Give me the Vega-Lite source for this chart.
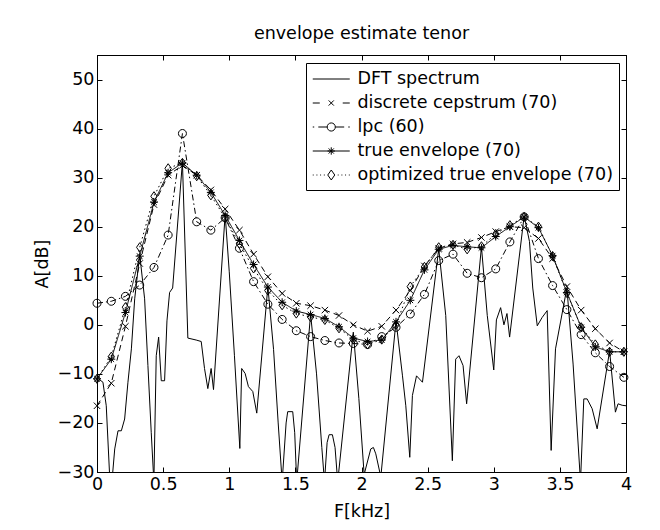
{
"$schema": "https://vega.github.io/schema/vega-lite/v6.json",
"autosize": {"type": "none"},
"padding": {"left": 97, "top": 55, "right": 34, "bottom": 58},
"width": 529, "height": 417,
"background": "white",
"title": {"text": "envelope estimate tenor", "fontSize": 17.5, "font": "DejaVu Sans", "fontWeight": "normal", "color": "black", "offset": 12},
"data": {"values": [
{"f":0.000,"A":-10.8,"s":"DFT spectrum"},{"f":0.045,"A":-11.7,"s":"DFT spectrum"},{"f":0.070,"A":-16.5,"s":"DFT spectrum"},{"f":0.096,"A":-31,"s":"DFT spectrum"},{"f":0.116,"A":-31,"s":"DFT spectrum"},{"f":0.134,"A":-25.3,"s":"DFT spectrum"},{"f":0.159,"A":-21.6,"s":"DFT spectrum"},{"f":0.184,"A":-21.6,"s":"DFT spectrum"},{"f":0.209,"A":-19.2,"s":"DFT spectrum"},{"f":0.234,"A":-11.7,"s":"DFT spectrum"},{"f":0.260,"A":-4.9,"s":"DFT spectrum"},{"f":0.285,"A":5.3,"s":"DFT spectrum"},{"f":0.323,"A":14.3,"s":"DFT spectrum"},{"f":0.360,"A":5.3,"s":"DFT spectrum"},{"f":0.385,"A":-8.3,"s":"DFT spectrum"},{"f":0.410,"A":-21.9,"s":"DFT spectrum"},{"f":0.430,"A":-32,"s":"DFT spectrum"},{"f":0.448,"A":-6.3,"s":"DFT spectrum"},{"f":0.466,"A":-2.5,"s":"DFT spectrum"},{"f":0.486,"A":-11.4,"s":"DFT spectrum"},{"f":0.511,"A":-11.4,"s":"DFT spectrum"},{"f":0.529,"A":0.8,"s":"DFT spectrum"},{"f":0.549,"A":6.6,"s":"DFT spectrum"},{"f":0.572,"A":7.5,"s":"DFT spectrum"},{"f":0.646,"A":33.2,"s":"DFT spectrum"},{"f":0.687,"A":-2.7,"s":"DFT spectrum"},{"f":0.750,"A":-3.1,"s":"DFT spectrum"},{"f":0.788,"A":-3.4,"s":"DFT spectrum"},{"f":0.813,"A":-8.9,"s":"DFT spectrum"},{"f":0.838,"A":-13,"s":"DFT spectrum"},{"f":0.863,"A":-8.9,"s":"DFT spectrum"},{"f":0.881,"A":-13.2,"s":"DFT spectrum"},{"f":0.969,"A":22.5,"s":"DFT spectrum"},{"f":1.000,"A":10.8,"s":"DFT spectrum"},{"f":1.039,"A":-6.2,"s":"DFT spectrum"},{"f":1.080,"A":-25.2,"s":"DFT spectrum"},{"f":1.094,"A":-8.9,"s":"DFT spectrum"},{"f":1.120,"A":-9.9,"s":"DFT spectrum"},{"f":1.145,"A":-12.6,"s":"DFT spectrum"},{"f":1.178,"A":-13.6,"s":"DFT spectrum"},{"f":1.208,"A":-18,"s":"DFT spectrum"},{"f":1.292,"A":7.8,"s":"DFT spectrum"},{"f":1.335,"A":-5,"s":"DFT spectrum"},{"f":1.370,"A":-20,"s":"DFT spectrum"},{"f":1.400,"A":-32,"s":"DFT spectrum"},{"f":1.430,"A":-20,"s":"DFT spectrum"},{"f":1.442,"A":-17.7,"s":"DFT spectrum"},{"f":1.480,"A":-17.7,"s":"DFT spectrum"},{"f":1.495,"A":-22,"s":"DFT spectrum"},{"f":1.510,"A":-32,"s":"DFT spectrum"},{"f":1.615,"A":2.2,"s":"DFT spectrum"},{"f":1.660,"A":-10,"s":"DFT spectrum"},{"f":1.700,"A":-25,"s":"DFT spectrum"},{"f":1.720,"A":-32,"s":"DFT spectrum"},{"f":1.740,"A":-24,"s":"DFT spectrum"},{"f":1.755,"A":-22.4,"s":"DFT spectrum"},{"f":1.780,"A":-22.4,"s":"DFT spectrum"},{"f":1.800,"A":-25,"s":"DFT spectrum"},{"f":1.820,"A":-32,"s":"DFT spectrum"},{"f":1.938,"A":-1.5,"s":"DFT spectrum"},{"f":1.980,"A":-15,"s":"DFT spectrum"},{"f":2.020,"A":-30.5,"s":"DFT spectrum"},{"f":2.070,"A":-25.3,"s":"DFT spectrum"},{"f":2.090,"A":-25,"s":"DFT spectrum"},{"f":2.108,"A":-26.3,"s":"DFT spectrum"},{"f":2.146,"A":-31,"s":"DFT spectrum"},{"f":2.261,"A":0.8,"s":"DFT spectrum"},{"f":2.310,"A":-10.4,"s":"DFT spectrum"},{"f":2.335,"A":-16.5,"s":"DFT spectrum"},{"f":2.365,"A":-27,"s":"DFT spectrum"},{"f":2.385,"A":-14.4,"s":"DFT spectrum"},{"f":2.416,"A":-10.4,"s":"DFT spectrum"},{"f":2.461,"A":-11.7,"s":"DFT spectrum"},{"f":2.584,"A":15.5,"s":"DFT spectrum"},{"f":2.637,"A":1.9,"s":"DFT spectrum"},{"f":2.687,"A":-27.7,"s":"DFT spectrum"},{"f":2.712,"A":-7,"s":"DFT spectrum"},{"f":2.737,"A":-6.3,"s":"DFT spectrum"},{"f":2.768,"A":-8.3,"s":"DFT spectrum"},{"f":2.795,"A":-16.1,"s":"DFT spectrum"},{"f":2.907,"A":15.9,"s":"DFT spectrum"},{"f":2.951,"A":1.9,"s":"DFT spectrum"},{"f":3.000,"A":-9.2,"s":"DFT spectrum"},{"f":3.020,"A":1,"s":"DFT spectrum"},{"f":3.052,"A":3.5,"s":"DFT spectrum"},{"f":3.077,"A":0,"s":"DFT spectrum"},{"f":3.100,"A":2.3,"s":"DFT spectrum"},{"f":3.120,"A":-2.5,"s":"DFT spectrum"},{"f":3.230,"A":22.2,"s":"DFT spectrum"},{"f":3.270,"A":17,"s":"DFT spectrum"},{"f":3.295,"A":7.5,"s":"DFT spectrum"},{"f":3.329,"A":-0.2,"s":"DFT spectrum"},{"f":3.366,"A":1.5,"s":"DFT spectrum"},{"f":3.404,"A":2.9,"s":"DFT spectrum"},{"f":3.434,"A":-25.6,"s":"DFT spectrum"},{"f":3.467,"A":-4.9,"s":"DFT spectrum"},{"f":3.553,"A":7.5,"s":"DFT spectrum"},{"f":3.600,"A":-8,"s":"DFT spectrum"},{"f":3.656,"A":-32,"s":"DFT spectrum"},{"f":3.681,"A":-15.1,"s":"DFT spectrum"},{"f":3.706,"A":-15.1,"s":"DFT spectrum"},{"f":3.744,"A":-17.1,"s":"DFT spectrum"},{"f":3.782,"A":-21.2,"s":"DFT spectrum"},{"f":3.876,"A":-5.3,"s":"DFT spectrum"},{"f":3.920,"A":-17.8,"s":"DFT spectrum"},{"f":3.940,"A":-16.1,"s":"DFT spectrum"},{"f":3.971,"A":-16.4,"s":"DFT spectrum"},{"f":4.000,"A":-16.5,"s":"DFT spectrum"},
{"f":0.000,"A":-16.5,"s":"discrete cepstrum (70)"},{"f":0.108,"A":-11.9,"s":"discrete cepstrum (70)"},{"f":0.215,"A":-0.3,"s":"discrete cepstrum (70)"},{"f":0.323,"A":12.5,"s":"discrete cepstrum (70)"},{"f":0.431,"A":24.5,"s":"discrete cepstrum (70)"},{"f":0.538,"A":30.5,"s":"discrete cepstrum (70)"},{"f":0.646,"A":32.5,"s":"discrete cepstrum (70)"},{"f":0.754,"A":30.5,"s":"discrete cepstrum (70)"},{"f":0.861,"A":27.5,"s":"discrete cepstrum (70)"},{"f":0.969,"A":23.6,"s":"discrete cepstrum (70)"},{"f":1.077,"A":19.3,"s":"discrete cepstrum (70)"},{"f":1.184,"A":14.4,"s":"discrete cepstrum (70)"},{"f":1.292,"A":9.8,"s":"discrete cepstrum (70)"},{"f":1.400,"A":6.4,"s":"discrete cepstrum (70)"},{"f":1.507,"A":4.4,"s":"discrete cepstrum (70)"},{"f":1.615,"A":3.9,"s":"discrete cepstrum (70)"},{"f":1.723,"A":3.0,"s":"discrete cepstrum (70)"},{"f":1.830,"A":1.9,"s":"discrete cepstrum (70)"},{"f":1.938,"A":0,"s":"discrete cepstrum (70)"},{"f":2.046,"A":-1.3,"s":"discrete cepstrum (70)"},{"f":2.153,"A":-0.3,"s":"discrete cepstrum (70)"},{"f":2.261,"A":3,"s":"discrete cepstrum (70)"},{"f":2.369,"A":7,"s":"discrete cepstrum (70)"},{"f":2.476,"A":12,"s":"discrete cepstrum (70)"},{"f":2.584,"A":15.6,"s":"discrete cepstrum (70)"},{"f":2.692,"A":16.5,"s":"discrete cepstrum (70)"},{"f":2.799,"A":16.8,"s":"discrete cepstrum (70)"},{"f":2.907,"A":17.8,"s":"discrete cepstrum (70)"},{"f":3.015,"A":19,"s":"discrete cepstrum (70)"},{"f":3.122,"A":20,"s":"discrete cepstrum (70)"},{"f":3.230,"A":19.8,"s":"discrete cepstrum (70)"},{"f":3.338,"A":17.6,"s":"discrete cepstrum (70)"},{"f":3.445,"A":13.5,"s":"discrete cepstrum (70)"},{"f":3.553,"A":7.8,"s":"discrete cepstrum (70)"},{"f":3.661,"A":3,"s":"discrete cepstrum (70)"},{"f":3.768,"A":-0.8,"s":"discrete cepstrum (70)"},{"f":3.876,"A":-3.7,"s":"discrete cepstrum (70)"},{"f":3.984,"A":-5.5,"s":"discrete cepstrum (70)"},
{"f":0.000,"A":4.4,"s":"lpc (60)"},{"f":0.108,"A":4.8,"s":"lpc (60)"},{"f":0.215,"A":5.8,"s":"lpc (60)"},{"f":0.323,"A":8.1,"s":"lpc (60)"},{"f":0.431,"A":11.7,"s":"lpc (60)"},{"f":0.538,"A":18.3,"s":"lpc (60)"},{"f":0.646,"A":39,"s":"lpc (60)"},{"f":0.754,"A":21,"s":"lpc (60)"},{"f":0.861,"A":19.3,"s":"lpc (60)"},{"f":0.969,"A":21.8,"s":"lpc (60)"},{"f":1.077,"A":15.6,"s":"lpc (60)"},{"f":1.184,"A":8.8,"s":"lpc (60)"},{"f":1.292,"A":4.2,"s":"lpc (60)"},{"f":1.400,"A":1.1,"s":"lpc (60)"},{"f":1.507,"A":-1.2,"s":"lpc (60)"},{"f":1.615,"A":-2.4,"s":"lpc (60)"},{"f":1.723,"A":-3.2,"s":"lpc (60)"},{"f":1.830,"A":-3.7,"s":"lpc (60)"},{"f":1.938,"A":-3.8,"s":"lpc (60)"},{"f":2.046,"A":-4,"s":"lpc (60)"},{"f":2.153,"A":-2.4,"s":"lpc (60)"},{"f":2.261,"A":-0.5,"s":"lpc (60)"},{"f":2.369,"A":2.2,"s":"lpc (60)"},{"f":2.476,"A":6.2,"s":"lpc (60)"},{"f":2.584,"A":13.1,"s":"lpc (60)"},{"f":2.692,"A":14.4,"s":"lpc (60)"},{"f":2.799,"A":10.5,"s":"lpc (60)"},{"f":2.907,"A":9.6,"s":"lpc (60)"},{"f":3.015,"A":11.4,"s":"lpc (60)"},{"f":3.122,"A":16.9,"s":"lpc (60)"},{"f":3.230,"A":22,"s":"lpc (60)"},{"f":3.338,"A":13.5,"s":"lpc (60)"},{"f":3.445,"A":8,"s":"lpc (60)"},{"f":3.553,"A":3.1,"s":"lpc (60)"},{"f":3.661,"A":-2,"s":"lpc (60)"},{"f":3.768,"A":-5.7,"s":"lpc (60)"},{"f":3.876,"A":-8.5,"s":"lpc (60)"},{"f":3.984,"A":-10.7,"s":"lpc (60)"},
{"f":0.000,"A":-11,"s":"true envelope (70)"},{"f":0.108,"A":-7,"s":"true envelope (70)"},{"f":0.215,"A":2.5,"s":"true envelope (70)"},{"f":0.323,"A":14,"s":"true envelope (70)"},{"f":0.431,"A":25,"s":"true envelope (70)"},{"f":0.538,"A":31,"s":"true envelope (70)"},{"f":0.646,"A":33,"s":"true envelope (70)"},{"f":0.754,"A":30.5,"s":"true envelope (70)"},{"f":0.861,"A":27,"s":"true envelope (70)"},{"f":0.969,"A":22.3,"s":"true envelope (70)"},{"f":1.077,"A":17.2,"s":"true envelope (70)"},{"f":1.184,"A":12.3,"s":"true envelope (70)"},{"f":1.292,"A":7.7,"s":"true envelope (70)"},{"f":1.400,"A":4.6,"s":"true envelope (70)"},{"f":1.507,"A":2.8,"s":"true envelope (70)"},{"f":1.615,"A":2.1,"s":"true envelope (70)"},{"f":1.723,"A":1.3,"s":"true envelope (70)"},{"f":1.830,"A":-0.4,"s":"true envelope (70)"},{"f":1.938,"A":-2.7,"s":"true envelope (70)"},{"f":2.046,"A":-3.4,"s":"true envelope (70)"},{"f":2.153,"A":-3.1,"s":"true envelope (70)"},{"f":2.261,"A":0.6,"s":"true envelope (70)"},{"f":2.369,"A":5,"s":"true envelope (70)"},{"f":2.476,"A":11.2,"s":"true envelope (70)"},{"f":2.584,"A":15.4,"s":"true envelope (70)"},{"f":2.692,"A":16.2,"s":"true envelope (70)"},{"f":2.799,"A":15.9,"s":"true envelope (70)"},{"f":2.907,"A":15.7,"s":"true envelope (70)"},{"f":3.015,"A":18,"s":"true envelope (70)"},{"f":3.122,"A":20,"s":"true envelope (70)"},{"f":3.230,"A":22,"s":"true envelope (70)"},{"f":3.338,"A":19.8,"s":"true envelope (70)"},{"f":3.445,"A":14.1,"s":"true envelope (70)"},{"f":3.553,"A":6.6,"s":"true envelope (70)"},{"f":3.661,"A":-0.5,"s":"true envelope (70)"},{"f":3.768,"A":-4.5,"s":"true envelope (70)"},{"f":3.876,"A":-5.5,"s":"true envelope (70)"},{"f":3.984,"A":-5.5,"s":"true envelope (70)"},
{"f":0.000,"A":-11,"s":"optimized true envelope (70)"},{"f":0.108,"A":-6.5,"s":"optimized true envelope (70)"},{"f":0.215,"A":3.6,"s":"optimized true envelope (70)"},{"f":0.323,"A":15.8,"s":"optimized true envelope (70)"},{"f":0.431,"A":26.2,"s":"optimized true envelope (70)"},{"f":0.538,"A":31.9,"s":"optimized true envelope (70)"},{"f":0.646,"A":33,"s":"optimized true envelope (70)"},{"f":0.754,"A":30.3,"s":"optimized true envelope (70)"},{"f":0.861,"A":26.4,"s":"optimized true envelope (70)"},{"f":0.969,"A":21.8,"s":"optimized true envelope (70)"},{"f":1.077,"A":16.5,"s":"optimized true envelope (70)"},{"f":1.184,"A":11.5,"s":"optimized true envelope (70)"},{"f":1.292,"A":7,"s":"optimized true envelope (70)"},{"f":1.400,"A":4,"s":"optimized true envelope (70)"},{"f":1.507,"A":2.3,"s":"optimized true envelope (70)"},{"f":1.615,"A":1.6,"s":"optimized true envelope (70)"},{"f":1.723,"A":1,"s":"optimized true envelope (70)"},{"f":1.830,"A":-0.7,"s":"optimized true envelope (70)"},{"f":1.938,"A":-3,"s":"optimized true envelope (70)"},{"f":2.046,"A":-4,"s":"optimized true envelope (70)"},{"f":2.153,"A":-3,"s":"optimized true envelope (70)"},{"f":2.261,"A":0,"s":"optimized true envelope (70)"},{"f":2.369,"A":7.8,"s":"optimized true envelope (70)"},{"f":2.476,"A":11.8,"s":"optimized true envelope (70)"},{"f":2.584,"A":15.8,"s":"optimized true envelope (70)"},{"f":2.692,"A":16.3,"s":"optimized true envelope (70)"},{"f":2.799,"A":15.4,"s":"optimized true envelope (70)"},{"f":2.907,"A":16,"s":"optimized true envelope (70)"},{"f":3.015,"A":18.5,"s":"optimized true envelope (70)"},{"f":3.122,"A":20.3,"s":"optimized true envelope (70)"},{"f":3.230,"A":22,"s":"optimized true envelope (70)"},{"f":3.338,"A":20,"s":"optimized true envelope (70)"},{"f":3.445,"A":14,"s":"optimized true envelope (70)"},{"f":3.553,"A":6.5,"s":"optimized true envelope (70)"},{"f":3.661,"A":-0.5,"s":"optimized true envelope (70)"},{"f":3.768,"A":-4,"s":"optimized true envelope (70)"},{"f":3.876,"A":-5.5,"s":"optimized true envelope (70)"},{"f":3.984,"A":-5.5,"s":"optimized true envelope (70)"}
]},
"layer": [
 {
  "transform": [{"filter": "datum.s === 'DFT spectrum'"}],
  "mark": {"type": "line", "color": "black", "strokeWidth": 1, "clip": true},
  "encoding": {
   "x": {"field": "f", "type": "quantitative", "scale": {"domain": [0, 4], "nice": false, "zero": false},
         "axis": {"orient": "bottom", "values": [0, 0.5, 1, 1.5, 2, 2.5, 3, 3.5, 4], "format": "~g", "title": "F[kHz]"}},
   "y": {"field": "A", "type": "quantitative", "scale": {"domain": [-30, 55], "nice": false, "zero": false},
         "axis": {"orient": "left", "values": [-30, -20, -10, 0, 10, 20, 30, 40, 50], "title": "A[dB]"}}
  }
 },
 {
  "transform": [{"filter": "datum.s !== 'DFT spectrum'"}],
  "mark": {"type": "line", "color": "black", "strokeWidth": 1, "clip": true},
  "encoding": {
   "x": {"field": "f", "type": "quantitative",
         "axis": {"orient": "top", "values": [0, 0.5, 1, 1.5, 2, 2.5, 3, 3.5, 4], "labels": false, "title": null}},
   "y": {"field": "A", "type": "quantitative",
         "axis": {"orient": "right", "values": [-30, -20, -10, 0, 10, 20, 30, 40, 50], "labels": false, "title": null}},
   "strokeDash": {"field": "s", "type": "nominal",
     "scale": {"domain": ["discrete cepstrum (70)", "lpc (60)", "true envelope (70)", "optimized true envelope (70)"],
               "range": [[6, 4], [6, 3, 1.5, 3], [1, 0], [1.5, 3]]},
     "legend": null}
  }
 },
 {
  "transform": [{"filter": "datum.s !== 'DFT spectrum'"}],
  "mark": {"type": "point", "filled": false, "color": "black", "strokeWidth": 1, "size": 64, "opacity": 1},
  "encoding": {
   "x": {"field": "f", "type": "quantitative", "axis": null},
   "y": {"field": "A", "type": "quantitative", "axis": null},
   "shape": {"field": "s", "type": "nominal",
     "scale": {"domain": ["discrete cepstrum (70)", "lpc (60)", "true envelope (70)", "optimized true envelope (70)"],
               "range": ["M-0.8,-0.8L0.8,0.8M-0.8,0.8L0.8,-0.8", "M1,0A1,1 0 1,1 -1,0A1,1 0 1,1 1,0Z", "M-1,0L1,0M0,-1L0,1M-0.7,-0.7L0.7,0.7M-0.7,0.7L0.7,-0.7", "M0,-1.15L0.8,0L0,1.15L-0.8,0Z"]},
     "legend": null}
  }
 },
 {
  "mark": {"type": "point", "filled": false, "color": "black", "opacity": 0},
  "encoding": {
   "x": {"field": "f", "type": "quantitative", "axis": null},
   "y": {"field": "A", "type": "quantitative", "axis": null},
   "shape": {"field": "s", "type": "nominal",
     "scale": {"domain": ["DFT spectrum", "discrete cepstrum (70)", "lpc (60)", "true envelope (70)", "optimized true envelope (70)"],
               "range": [
                 "M-1,0L3,0",
                 "M-1,0L-0.24,0M2.24,0L3,0M0.72,-0.28L1.28,0.28M0.72,0.28L1.28,-0.28",
                 "M-1,0L-0.84,0M-0.4,0L0.56,0M1.44,0L2.4,0M2.84,0L3,0M1.44,0A0.44,0.44 0 1,1 0.56,0A0.44,0.44 0 1,1 1.44,0",
                 "M-1,0L3,0M0.6,0L1.4,0M1,-0.4L1,0.4M0.72,-0.28L1.28,0.28M0.72,0.28L1.28,-0.28",
                 "M-1,0L-0.9,0M-0.6,0L-0.5,0M-0.2,0L-0.1,0M0.2,0L0.3,0M1.7,0L1.8,0M2.1,0L2.2,0M2.5,0L2.6,0M2.9,0L3,0M1,-0.54L1.38,0L1,0.54L0.62,0Z"
               ]},
     "legend": {
       "title": null, "orient": "none", "legendX": 209, "legendY": 8,
       "strokeColor": "black", "fillColor": "white", "padding": 6, "columnPadding": 0,
       "labelFont": "DejaVu Sans", "labelFontSize": 17.5, "labelColor": "black", "labelLimit": 400,
       "symbolSize": 342.25, "symbolStrokeColor": "black", "symbolFillColor": "transparent", "symbolStrokeWidth": 1, "symbolOpacity": 1,
       "rowPadding": 5, "labelOffset": 25.5,
       "encode": {"symbols": {"update": {"opacity": {"value": 1}, "fill": {"value": "transparent"}, "stroke": {"value": "black"}}}}
     }}
  }
 }
],
"resolve": {"scale": {"shape": "independent"}, "axis": {"x": "independent", "y": "independent"}},
"config": {
 "font": "DejaVu Sans",
 "view": {"stroke": "black", "strokeWidth": 1},
 "axis": {"grid": false, "domainColor": "black", "domainWidth": 1, "tickColor": "black", "tickWidth": 1, "tickSize": -5,
          "labelFont": "DejaVu Sans", "labelFontSize": 17.5, "labelColor": "black", "labelPadding": 8, "labelFlush": false, "labelOverlap": false, "labelBound": false,
          "titleFont": "DejaVu Sans", "titleFontSize": 17.5, "titleFontWeight": "normal", "titleColor": "black"},
 "axisX": {"titlePadding": 10},
 "axisY": {"titlePadding": 6}
}
}
